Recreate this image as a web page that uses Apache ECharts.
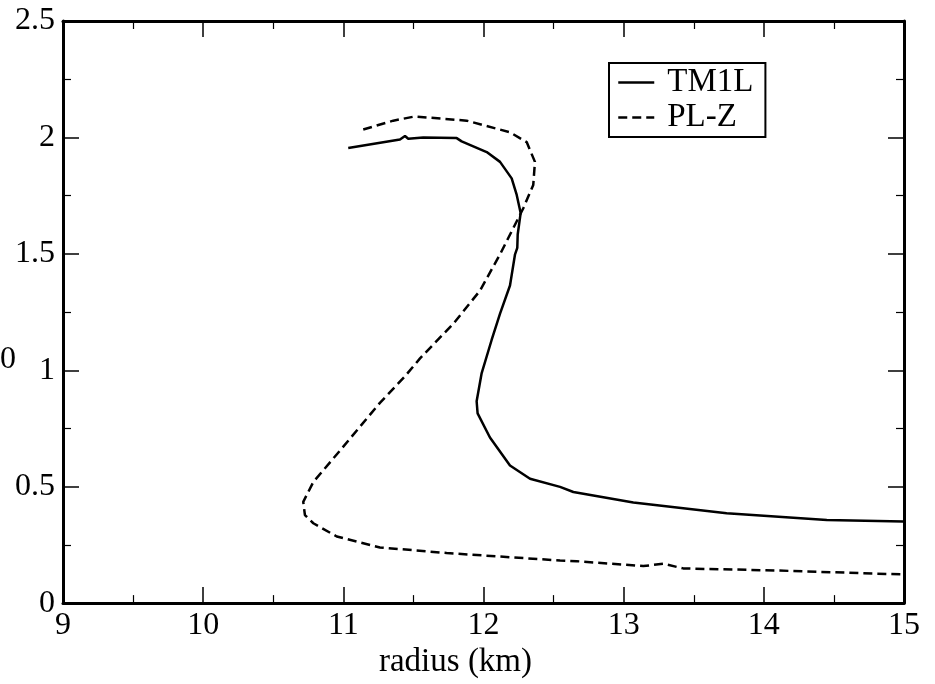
<!DOCTYPE html>
<html>
<head>
<meta charset="utf-8">
<script src="https://cdn.jsdelivr.net/npm/echarts@6/dist/echarts.min.js"></script>
<style>
html,body{margin:0;padding:0;background:#fff;}
#chart{width:935px;height:684px;}
</style>
</head>
<body>
<div id="chart"></div>
<script>
// Data
const tm1lR = [11.035, 11.404, 11.44, 11.463, 11.570, 11.809, 11.844, 12.023, 12.118, 12.201, 12.237, 12.265, 12.244, 12.241, 12.225, 12.189, 12.118, 12.058, 11.987, 11.951, 11.958, 12.046, 12.189, 12.332, 12.546, 12.641, 13.069, 13.735, 14.449, 14.995];
const tm1lM = [1.955, 1.991, 2.006, 1.994, 2.000, 1.997, 1.983, 1.937, 1.895, 1.824, 1.753, 1.675, 1.583, 1.526, 1.498, 1.364, 1.243, 1.130, 0.988, 0.867, 0.815, 0.711, 0.591, 0.534, 0.499, 0.477, 0.432, 0.386, 0.357, 0.350];
const plzR = [11.142, 11.356, 11.51, 11.880, 12.189, 12.308, 12.367, 12.355, 12.284, 12.213, 12.118, 11.975, 11.785, 11.547, 11.44, 11.261, 10.976, 10.786, 10.714, 10.726, 10.786, 10.953, 11.261, 11.737, 12.546, 12.665, 13.14, 13.283, 13.425, 14.09, 14.995];
const plzM = [2.034, 2.072, 2.09, 2.072, 2.022, 1.98, 1.895, 1.796, 1.696, 1.611, 1.498, 1.342, 1.200, 1.051, 0.974, 0.860, 0.655, 0.520, 0.435, 0.378, 0.343, 0.286, 0.239, 0.215, 0.183, 0.180, 0.159, 0.169, 0.149, 0.140, 0.123];
const seriesNames = ['TM1L', 'PL-Z'];
const xTitle = 'radius (km)';
const yTitleVisible = '0';

const pairs = (xs, ys) => xs.map((x, i) => [x, ys[i]]);
const FONT = '"Liberation Serif", "Times New Roman", serif';

const chart = echarts.init(document.getElementById('chart'), null, {renderer: 'canvas'});

const axisCommon = {
  type: 'value',
  axisLine: {show: true, onZero: false, lineStyle: {color: '#000', width: 3}},
  axisTick: {show: true, inside: true, length: 16, lineStyle: {color: '#000', width: 1.5}},
  minorTick: {show: true, splitNumber: 2, length: 8, lineStyle: {color: '#000', width: 1.2}},
  splitLine: {show: false},
  minorSplitLine: {show: false}
};

chart.setOption({
  animation: false,
  backgroundColor: '#fff',
  grid: {left: 63, right: 31, top: 21, bottom: 75, containLabel: false},
  xAxis: [
    Object.assign({}, axisCommon, {
      min: 9, max: 15, interval: 1, position: 'bottom',
      name: xTitle, nameLocation: 'middle', nameGap: 36,
      nameTextStyle: {fontFamily: FONT, fontSize: 33, color: '#000', padding: [0, 56, 0, 0]},
      axisLabel: {fontFamily: FONT, fontSize: 32, color: '#000', margin: 6}
    }),
    Object.assign({}, axisCommon, {
      min: 9, max: 15, interval: 1, position: 'top',
      axisLabel: {show: false}
    })
  ],
  yAxis: [
    Object.assign({}, axisCommon, {
      min: 0, max: 2.5, interval: 0.5, position: 'left',
      axisLabel: {fontFamily: FONT, fontSize: 32, color: '#000', margin: 8}
    }),
    Object.assign({}, axisCommon, {
      min: 0, max: 2.5, interval: 0.5, position: 'right',
      axisLabel: {show: false}
    })
  ],
  legend: {
    orient: 'vertical',
    left: 609, top: 63,
    padding: [3, 12, 3, 8],
    itemGap: 2,
    itemWidth: 36, itemHeight: 14,
    itemStyle: {opacity: 0, color: 'rgba(0,0,0,0)', borderWidth: 0},
    lineStyle: {color: '#000', width: 2.5, opacity: 1},
    borderColor: '#000', borderWidth: 2,
    textStyle: {fontFamily: FONT, fontSize: 33, color: '#000', padding: [0, 0, 0, 8]},
    data: seriesNames
  },
  series: [
    {
      name: seriesNames[0], type: 'line', xAxisIndex: 0, yAxisIndex: 0,
      data: pairs(tm1lR, tm1lM), showSymbol: false, symbol: 'none',
      lineStyle: {color: '#000', width: 2.5, type: 'solid'},
      itemStyle: {color: '#000'}
    },
    {
      name: seriesNames[1], type: 'line', xAxisIndex: 0, yAxisIndex: 0,
      data: pairs(plzR, plzM), showSymbol: false, symbol: 'none',
      lineStyle: {color: '#000', width: 2.5, type: [9, 5]},
      itemStyle: {color: '#000'}
    }
  ],
  graphic: [
    {type: 'text', left: 0, top: 344,
     style: {text: yTitleVisible, font: '32px ' + FONT, fill: '#000'}}
  ]
});
</script>
</body>
</html>
